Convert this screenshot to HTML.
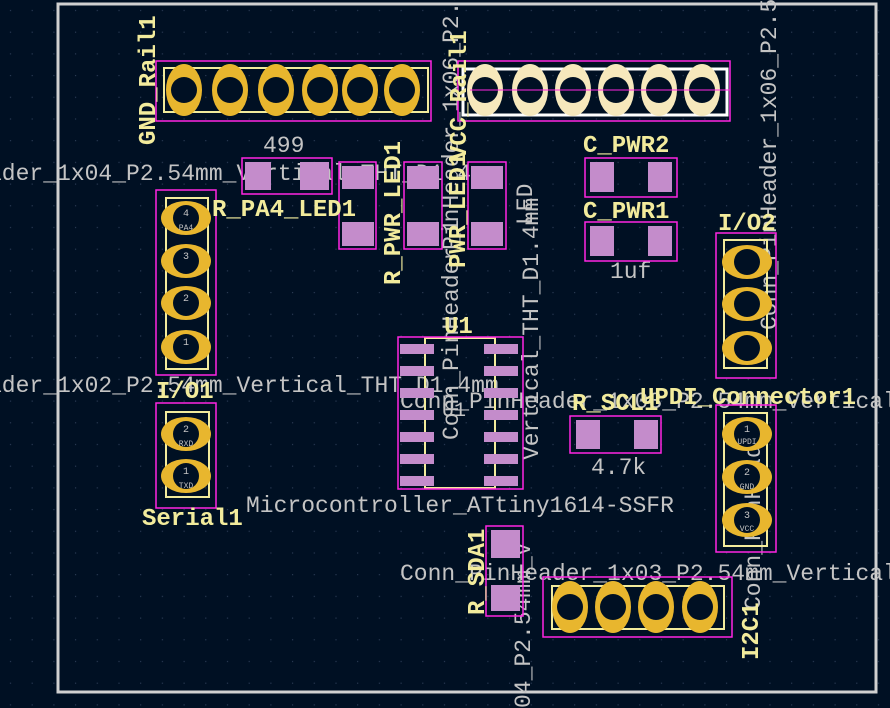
<!DOCTYPE html>
<html><head><meta charset="utf-8"><style>
html,body{margin:0;padding:0;background:#001023;}
svg{display:block;}
text{font-family:"Liberation Mono","DejaVu Sans Mono",monospace;}
.y{fill:#f2eb9c;}
.g{fill:#c4c4c4;}
</style></head><body>
<svg width="890" height="708" viewBox="0 0 890 708" xmlns="http://www.w3.org/2000/svg">
<defs>
<pattern id="dots" x="0" y="0" width="21.7" height="21.7" patternUnits="userSpaceOnUse">
<rect x="10" y="10" width="1" height="1" fill="#3a4a66"/>
</pattern>
</defs>
<rect width="890" height="708" fill="#001023"/>
<rect width="890" height="708" fill="url(#dots)"/>
<rect x="58" y="4" width="818" height="688" fill="none" stroke="#d0d0d0" stroke-width="3"/>

<g class="g" font-size="23">
<text x="-12" y="180">ader_1x04_P2.54mm_Vertical_THT_D1.4mm</text>
<text x="-12" y="392">ader_1x02_P2.54mm_Vertical_THT_D1.4mm</text>
<text x="400" y="408">Conn_PinHeader_1x03_P2.54mm_Vertical</text>
<text x="400" y="580">Conn_PinHeader_1x03_P2.54mm_Vertical</text>
<text x="246" y="512">Microcontroller_ATtiny1614-SSFR</text>
<text x="263" y="152">499</text>
<text x="610" y="278">1uf</text>
<text x="591" y="474">4.7k</text>
<text x="442" y="416" font-size="20">U1</text>
<text transform="translate(458,250) rotate(-90)">PinHeader_1x06_P2.54mm_V</text>
<text transform="translate(776,330) rotate(-90)">Conn_PinHeader_1x06_P2.54mm_V</text>
<text transform="translate(458,440) rotate(-90)">Conn_PinHeader_1</text>
<text transform="translate(538,460) rotate(-90)">Vertical_THT_D1.4mm</text>
<text transform="translate(530,708) rotate(-90)">04_P2.54mm_V</text>
<text transform="translate(760,610) rotate(-90)">Conn_PinHeader</text>
<text transform="translate(532,225) rotate(-90)">LED</text>
</g>

<g fill="none" stroke="#f2eb9c" stroke-width="2">
<rect x="164" y="68" width="264" height="44"/>
<rect x="166" y="198" width="42" height="171"/>
<rect x="166" y="412" width="43" height="85"/>
<rect x="724" y="240" width="43" height="128"/>
<rect x="724" y="413" width="43" height="133"/>
<rect x="552" y="586" width="172" height="43"/>
<rect x="425" y="338" width="70" height="150"/>
</g>
<rect x="463" y="69" width="264" height="46" fill="none" stroke="#ffffff" stroke-width="3"/>

<g fill="none" stroke="#ff26e2" stroke-width="1.5">
<rect x="156" y="61" width="275" height="60"/>
<rect x="458" y="61" width="272" height="60"/>
<rect x="156" y="190" width="60" height="185"/>
<rect x="156" y="403" width="60" height="105"/>
<rect x="716" y="233" width="60" height="145"/>
<rect x="716" y="405" width="60" height="147"/>
<rect x="543" y="577" width="189" height="60"/>
<rect x="242" y="158" width="90" height="36"/>
<rect x="339" y="162" width="37" height="87"/>
<rect x="404" y="162" width="38" height="87"/>
<rect x="468" y="162" width="38" height="87"/>
<rect x="585" y="158" width="92" height="39"/>
<rect x="585" y="222" width="92" height="39"/>
<rect x="570" y="416" width="91" height="37"/>
<rect x="486" y="526" width="37" height="90"/>
<rect x="398" y="337" width="125" height="152"/>
</g>

<g fill="#e8b62e">
<ellipse cx="184" cy="90" rx="18" ry="26"/><ellipse cx="230" cy="90" rx="18" ry="26"/>
<ellipse cx="276" cy="90" rx="18" ry="26"/><ellipse cx="320" cy="90" rx="18" ry="26"/>
<ellipse cx="360" cy="90" rx="18" ry="26"/><ellipse cx="402" cy="90" rx="18" ry="26"/>
<ellipse cx="570" cy="607" rx="18" ry="26"/><ellipse cx="613" cy="607" rx="18" ry="26"/>
<ellipse cx="656" cy="607" rx="18" ry="26"/><ellipse cx="700" cy="607" rx="18" ry="26"/>
<ellipse cx="186" cy="218" rx="25" ry="17"/><ellipse cx="186" cy="261" rx="25" ry="17"/>
<ellipse cx="186" cy="303" rx="25" ry="17"/><ellipse cx="186" cy="347" rx="25" ry="17"/>
<ellipse cx="186" cy="434" rx="25" ry="17"/><ellipse cx="186" cy="476" rx="25" ry="17"/>
<ellipse cx="747" cy="262" rx="25" ry="17"/><ellipse cx="747" cy="304" rx="25" ry="17"/>
<ellipse cx="747" cy="348" rx="25" ry="17"/>
<ellipse cx="747" cy="434" rx="25" ry="17"/><ellipse cx="747" cy="477" rx="25" ry="17"/>
<ellipse cx="747" cy="520" rx="25" ry="17"/>
</g>
<g fill="#f6e8bc">
<ellipse cx="485" cy="90" rx="18" ry="26"/><ellipse cx="530" cy="90" rx="18" ry="26"/>
<ellipse cx="573" cy="90" rx="18" ry="26"/><ellipse cx="616" cy="90" rx="18" ry="26"/>
<ellipse cx="659" cy="90" rx="18" ry="26"/><ellipse cx="702" cy="90" rx="18" ry="26"/>
</g>
<g fill="#001023">
<circle cx="184" cy="90" r="13"/><circle cx="230" cy="90" r="13"/><circle cx="276" cy="90" r="13"/>
<circle cx="320" cy="90" r="13"/><circle cx="360" cy="90" r="13"/><circle cx="402" cy="90" r="13"/>
<circle cx="485" cy="90" r="13"/><circle cx="530" cy="90" r="13"/><circle cx="573" cy="90" r="13"/>
<circle cx="616" cy="90" r="13"/><circle cx="659" cy="90" r="13"/><circle cx="702" cy="90" r="13"/>
<circle cx="570" cy="607" r="13"/><circle cx="613" cy="607" r="13"/><circle cx="656" cy="607" r="13"/><circle cx="700" cy="607" r="13"/>
<circle cx="186" cy="218" r="13"/><circle cx="186" cy="261" r="13"/><circle cx="186" cy="303" r="13"/><circle cx="186" cy="347" r="13"/>
<circle cx="186" cy="434" r="13"/><circle cx="186" cy="476" r="13"/>
<circle cx="747" cy="262" r="13"/><circle cx="747" cy="304" r="13"/><circle cx="747" cy="348" r="13"/>
<circle cx="747" cy="434" r="13"/><circle cx="747" cy="477" r="13"/><circle cx="747" cy="520" r="13"/>
</g>
<line x1="470" y1="90" x2="730" y2="90" stroke="#ff26e2" stroke-width="1"/>
<g class="g" font-size="10" text-anchor="middle">
<text x="186" y="216">4</text><text x="186" y="230" font-size="8">PA4</text>
<text x="186" y="259">3</text><text x="186" y="301">2</text><text x="186" y="345">1</text>
<text x="186" y="432">2</text><text x="186" y="446" font-size="8">RXD</text>
<text x="186" y="474">1</text><text x="186" y="488" font-size="8">TXD</text>
<text x="747" y="432">1</text><text x="747" y="444" font-size="8">UPDI</text>
<text x="747" y="475">2</text><text x="747" y="489" font-size="8">GND</text>
<text x="747" y="518">3</text><text x="747" y="531" font-size="8">VCC</text>
</g>

<g fill="#c48ccb">
<rect x="245" y="162" width="26" height="28"/><rect x="300" y="162" width="29" height="28"/>
<rect x="342" y="166" width="32" height="23"/><rect x="342" y="222" width="32" height="24"/>
<rect x="407" y="166" width="32" height="23"/><rect x="407" y="222" width="32" height="24"/>
<rect x="471" y="166" width="32" height="23"/><rect x="471" y="222" width="32" height="24"/>
<rect x="590" y="162" width="24" height="30"/><rect x="648" y="162" width="24" height="30"/>
<rect x="590" y="226" width="24" height="30"/><rect x="648" y="226" width="24" height="30"/>
<rect x="576" y="420" width="24" height="29"/><rect x="634" y="420" width="24" height="29"/>
<rect x="491" y="530" width="29" height="28"/><rect x="491" y="585" width="29" height="26"/>
<rect x="400" y="344" width="34" height="10"/><rect x="400" y="366" width="34" height="10"/>
<rect x="400" y="388" width="34" height="10"/><rect x="400" y="410" width="34" height="10"/>
<rect x="400" y="432" width="34" height="10"/><rect x="400" y="454" width="34" height="10"/>
<rect x="400" y="476" width="34" height="10"/>
<rect x="484" y="344" width="34" height="10"/><rect x="484" y="366" width="34" height="10"/>
<rect x="484" y="388" width="34" height="10"/><rect x="484" y="410" width="34" height="10"/>
<rect x="484" y="432" width="34" height="10"/><rect x="484" y="454" width="34" height="10"/>
<rect x="484" y="476" width="34" height="10"/>
</g>

<g class="y" font-size="24" font-weight="bold">
<text transform="translate(155,145) rotate(-90)">GND_Rail1</text>
<text x="212" y="216">R_PA4_LED1</text>
<text transform="translate(400,285) rotate(-90)">R_PWR_LED1</text>
<text transform="translate(465,268) rotate(-90)">PWR_LED1</text>
<text transform="translate(466,160) rotate(-90)">VCC_Rail1</text>
<text x="583" y="152">C_PWR2</text>
<text x="583" y="218">C_PWR1</text>
<text x="718" y="230">I/O2</text>
<text x="156" y="398">I/O1</text>
<text x="444" y="333">U1</text>
<text x="572" y="410">R_SCL1</text>
<text x="640" y="404">UPDI_Connector1</text>
<text x="142" y="525">Serial1</text>
<text transform="translate(484,615) rotate(-90)">R_SDA1</text>
<text transform="translate(758,660) rotate(-90)">I2C1</text>
</g>
</svg>
</body></html>
